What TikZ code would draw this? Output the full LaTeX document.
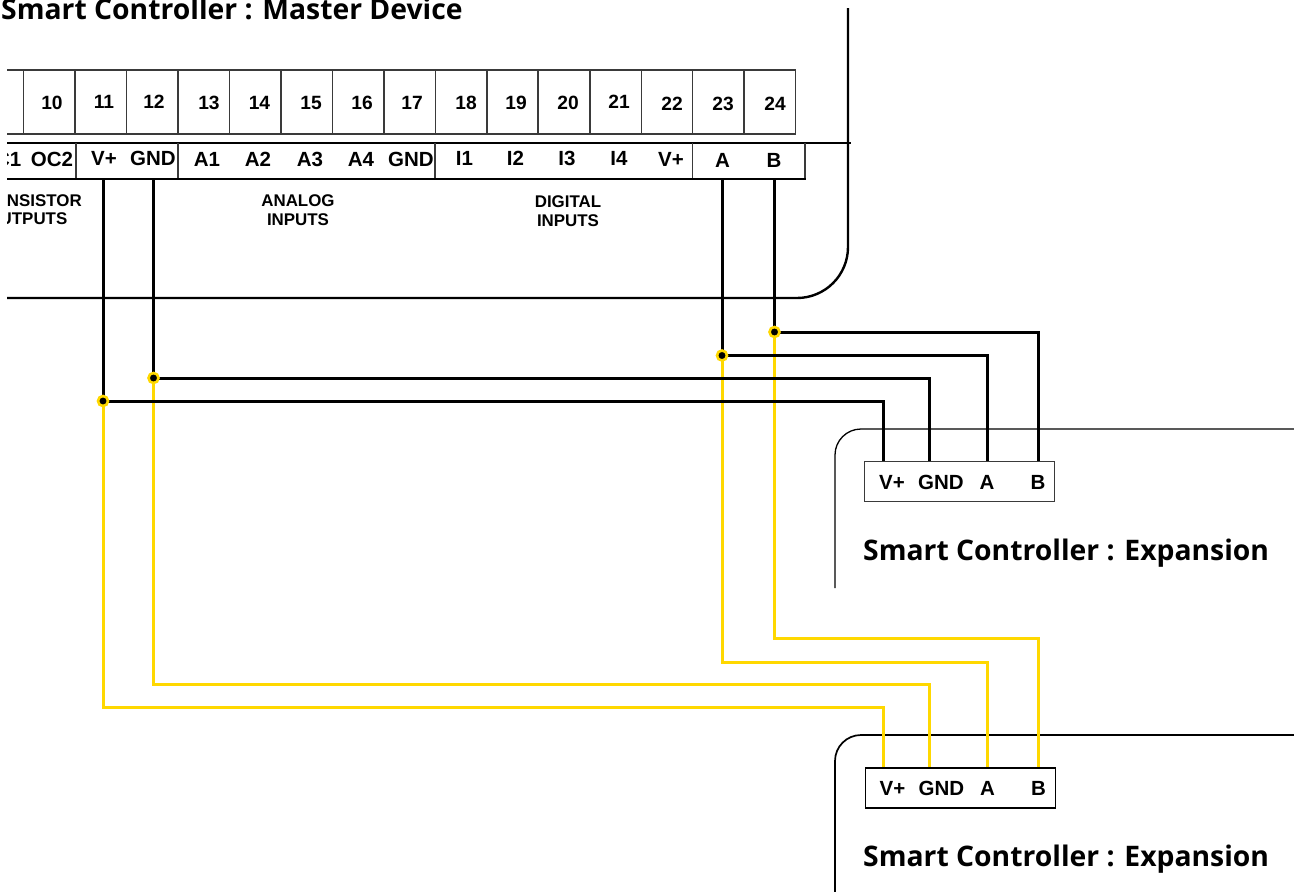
\documentclass[tikz,border=0pt]{standalone}
\usepackage{fontspec}
\setmainfont{Liberation Sans}
\newfontfamily\headfont{Open Sans}
\definecolor{wireyellow}{HTML}{FFD800}
\definecolor{cellgrey}{HTML}{3A3A3A}
\tikzset{
  frameline/.style={line width=2.4pt,black},
  thinframe/.style={line width=1.3pt,black},
  cell/.style={line width=1.2pt,cellgrey},
  wireblack/.style={line width=3pt,black,line cap=butt,line join=miter},
  wireyel/.style={line width=3pt,wireyellow,line cap=butt,line join=miter},
  pin/.style={font=\fontsize{20.5}{22}\selectfont\bfseries,inner sep=0pt,text=black},
  numlabel/.style={font=\fontsize{19.2}{21}\selectfont\bfseries,inner sep=0pt,text=black},
  sect/.style={font=\fontsize{16.9}{18}\selectfont\bfseries,inner sep=0pt,text=black},
  head/.style={font=\headfont\fontsize{28.3}{30}\selectfont\bfseries,inner sep=0pt,anchor=base west,text=black},
  pinbox/.style={draw=cellgrey,line width=1.4pt,fill=white,rectangle,inner sep=0pt,minimum width=190pt,minimum height=40pt},
  joint/.style={circle,draw=wireyellow,line width=2.6pt,fill=black,minimum size=10pt,inner sep=0pt}
}
\begin{document}
\begin{tikzpicture}[x=1pt,y=-1pt]
\useasboundingbox (0,0) rectangle (1294,892);
% Master device outline
\draw[frameline] (7,298) coordinate (mleft) -- (797,298) arc[start angle=90,end angle=0,radius=51] -- (848,8) coordinate (mtop);
\draw[line width=1.2pt,black] (7,143) coordinate (railL) -- (851,143) coordinate (railR);
% Numbered terminal row
\draw[cell] (7,70) -- (795.5,70) (7,134) -- (795.5,134);
\foreach \x in {23.5,75,126.5,178,229.5,281,332.5,384,435.5,487,538,590,641.5,692.5,744,795.5}
  \draw[cell] (\x,70) -- (\x,134);
% Label row
\draw[cell] (76,143) -- (76,179) (178,143) -- (178,179) (435,143) -- (435,179) (692.5,143) -- (692.5,179) (805,143) -- (805,179);
\draw[frameline] (7,179) -- (805.5,179);
% Numbers
\foreach \n/\x/\y in {10/52/103,11/104/102,12/154/102,13/209/103,14/259.5/103,15/311/103,16/362/103,17/412/103,18/466/103,19/516/103,20/568/103,21/619/102,22/672/104,23/723/104,24/775/104}
  \node[numlabel] (num\n) at (\x,\y) {\n};
% Clipped labels at left edge
\begin{scope}
\clip (7,130) rectangle (100,240);
\node[pin,anchor=east] (oc1) at (21.5,159) {OC1};
\node[sect,anchor=east] (transistor) at (82,200.5) {TRANSISTOR};
\node[sect,anchor=east] (outputs) at (67.5,219) {OUTPUTS};
\end{scope}
% Pin labels
\node[pin] (oc2) at (52,159) {OC2};
\node[pin] (mVp) at (104,158) {V+};
\node[pin] (mGnd) at (153,158) {GND};
\node[pin] (a1) at (207,159) {A1};
\node[pin] (a2) at (258,159) {A2};
\node[pin] (a3) at (310,159) {A3};
\node[pin] (a4) at (361,159) {A4};
\node[pin] (gndb) at (411,159) {GND};
\node[pin] (i1) at (464.5,158.5) {I1};
\node[pin] (i2) at (515.5,158.5) {I2};
\node[pin] (i3) at (567,158.5) {I3};
\node[pin] (i4) at (619,158.5) {I4};
\node[pin] (vpb) at (671,159.5) {V+};
\node[pin] (mA) at (722.5,160) {A};
\node[pin] (mB) at (774,160) {B};
\node[sect] (analog) at (298,201) {ANALOG};
\node[sect] (analogi) at (298,219.5) {INPUTS};
\node[sect] (digital) at (568,201.5) {DIGITAL};
\node[sect] (digitali) at (568,220.5) {INPUTS};
\node[head] (mtitle) at (1,19) {Smart Controller : Master Device};
% Expansion 1
\draw[thinframe] (835,588) -- (835,455) arc[start angle=180,end angle=270,radius=26] -- (1294,429);
\node[pinbox,anchor=north west] (box1) at (864,461) {};
\node[pin] at (892,482) (e1V) {V+};
\node[pin] at (941,482) (e1G) {GND};
\node[pin] at (987,482) (e1A) {A};
\node[pin] at (1038,482) (e1B) {B};
\node[head] (t1) at (863,560) {Smart Controller : Expansion};
% Expansion 2
\draw[frameline,line width=1.7pt] (835,892) -- (835,761) arc[start angle=180,end angle=270,radius=26] -- (1294,735);
\node[pinbox,anchor=north west,draw=black,line width=1.7pt] (box2) at (864.5,767) {};
\node[pin] at (892.5,788) (e2V) {V+};
\node[pin] at (941.5,788) (e2G) {GND};
\node[pin] at (987.5,788) (e2A) {A};
\node[pin] at (1038.5,788) (e2B) {B};
\node[head] (t2) at (863,866) {Smart Controller : Expansion};
% Terminal coordinates
\coordinate (mV) at (103.5,179);
\coordinate (mG) at (153.5,179);
\coordinate (mAw) at (722,179);
\coordinate (mBw) at (774.5,179);
\coordinate (jB) at (774.5,332);
\coordinate (jA) at (722,355.5);
\coordinate (jG) at (153.5,378);
\coordinate (jV) at (103,401);
\coordinate (t1V) at (883.5,461);
\coordinate (t1G) at (929.5,461);
\coordinate (t1A) at (987,461);
\coordinate (t1B) at (1038.5,461);
\coordinate (t2V) at (883.5,767);
\coordinate (t2G) at (929.5,767);
\coordinate (t2A) at (987,767);
\coordinate (t2B) at (1038.5,767);
% Yellow wires
\draw[wireyel] (jB) |- (1038.5,638.5) -- (t2B);
\draw[wireyel] (jA) |- (987,662) -- (t2A);
\draw[wireyel] (jG) |- (929.5,684.5) -- (t2G);
\draw[wireyel] (jV) |- (883.5,707.5) -- (t2V);
% Black wires
\draw[wireblack] (mV) -- (103.5,401) -- (jV);
\draw[wireblack] (mG) -- (jG);
\draw[wireblack] (mAw) -- (jA);
\draw[wireblack] (mBw) -- (jB);
\draw[wireblack] (jB) -- (1038.5,332) -- (t1B);
\draw[wireblack] (jA) -- (987,355.5) -- (t1A);
\draw[wireblack] (jG) -- (929.5,378) -- (t1G);
\draw[wireblack] (jV) -- (883.5,401) -- (t1V);
% Junctions
\node[joint] (cB) at (jB) {};
\node[joint] (cA) at (jA) {};
\node[joint] (cG) at (jG) {};
\node[joint] (cV) at (jV) {};
\end{tikzpicture}
\end{document}
